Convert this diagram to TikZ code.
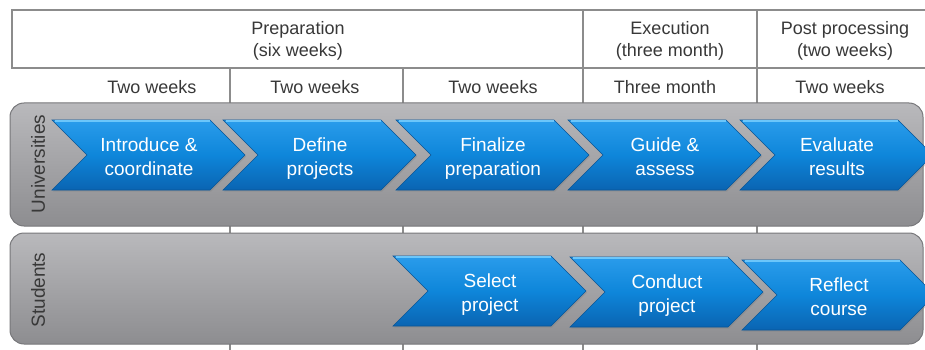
\documentclass[tikz,border=0pt]{standalone}
\usepackage{fontspec}
\setmainfont{Liberation Sans}
\usetikzlibrary{shadows}
\definecolor{hdrline}{HTML}{8C8C8C}
\definecolor{laneTop}{HTML}{B9B9BC}
\definecolor{laneBot}{HTML}{8D8D90}
\definecolor{laneEdge}{HTML}{77777A}
\definecolor{chevTop}{HTML}{2A9CEB}
\definecolor{chevMid}{HTML}{0E86DA}
\definecolor{chevBot}{HTML}{0A64B2}
\definecolor{chevHi}{HTML}{6CC6FA}
\definecolor{lbl}{HTML}{383838}
\tikzset{
 hdr/.style={font=\fontsize{18}{22}\selectfont, text=lbl, align=center},
 dur/.style={font=\fontsize{18}{22}\selectfont, text=lbl, anchor=base},
 chevtext/.style={font=\fontsize{19}{24}\selectfont, text=white, align=center},
 lane/.style={draw=laneEdge, line width=1pt, rounded corners=14pt, top color=laneTop, bottom color=laneBot},
 lanelabel/.style={font=\fontsize{19}{22}\selectfont, text=lbl, rotate=90},
 divider/.style={draw=hdrline, line width=2.5pt},
 hdrbox/.style={draw=hdrline, line width=2pt, fill=white},
 chevshape/.style={top color=chevTop, bottom color=chevBot, middle color=chevMid, draw=chevBot!85!black, line width=0.6pt,
   drop shadow={shadow xshift=1pt, shadow yshift=-1.5pt, opacity=0.35}},
 chevhi/.style={draw=chevHi, line width=1.6pt},
}
\newcommand{\mychev}[5]{% name, left x, centre y, line 1, line 2
 \path[chevshape] (#2,#3-35) -- ++(158,0) -- ++(35,35) -- ++(-35,35) -- ++(-158,0) -- ++(35,-35) -- cycle;
 \draw[chevhi] (#2+3,#3-34) -- (#2+158,#3-34);
 \node[chevtext] (#1) at (#2+97,#3+4) {\strut #4\\\strut #5};
}
\begin{document}
\begin{tikzpicture}[x=1pt,y=-1pt]
\path[use as bounding box] (0,0) rectangle (925,350);
\clip (0,0) rectangle (925,350);
% header box
\draw[hdrbox] (12,10) rectangle (932,68);
% dividers
\coordinate (d1t) at (230,68); \coordinate (d1b) at (230,352);
\coordinate (d2t) at (403,68); \coordinate (d2b) at (403,352);
\coordinate (d3t) at (583,10); \coordinate (d3b) at (583,352);
\coordinate (d4t) at (757,10); \coordinate (d4b) at (757,352);
\draw[divider] (d1t) -- (d1b);
\draw[divider] (d2t) -- (d2b);
\draw[divider] (d3t) -- (d3b);
\draw[divider] (d4t) -- (d4b);
% header texts
\node[hdr] (prep) at (298,41) {\strut Preparation\\\strut(six weeks)};
\node[hdr] (exec) at (670,41) {\strut Execution\\\strut(three month)};
\node[hdr] (post) at (845,41) {\strut Post processing\\\strut(two weeks)};
\node[dur] (w1) at (152,94) {Two weeks};
\node[dur] (w2) at (315,94) {Two weeks};
\node[dur] (w3) at (493,94) {Two weeks};
\node[dur] (w4) at (665,94) {Three month};
\node[dur] (w5) at (840,94) {Two weeks};
% lanes
\path[lane] (10,103) rectangle (923,226);
\path[lane] (10,233) rectangle (923,344);
\node[lanelabel] (uni) at (38,164) {Universities};
\node[lanelabel] (stu) at (38,290) {Students};
% university chevrons
\mychev{c1}{52}{155}{Introduce \&}{coordinate}
\mychev{c2}{223}{155}{Define}{projects}
\mychev{c3}{396}{155}{Finalize}{preparation}
\mychev{c4}{568}{155}{Guide \&}{assess}
\mychev{c5}{740}{155}{Evaluate}{results}
% student chevrons
\mychev{s1}{393}{291}{Select}{project}
\mychev{s2}{570}{292}{Conduct}{project}
\mychev{s3}{742}{295}{Reflect}{course}
\end{tikzpicture}
\end{document}
